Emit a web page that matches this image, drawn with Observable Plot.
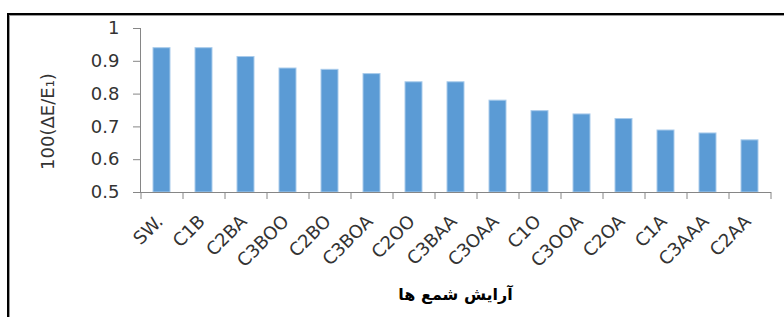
<!DOCTYPE html>
<html>
<head>
<meta charset="utf-8">
<script src="https://cdn.jsdelivr.net/npm/d3@7"></script>
<script src="https://cdn.jsdelivr.net/npm/@observablehq/plot@0.6"></script>
<style>
  html, body { margin: 0; padding: 0; background: #fff; }
  #wrap { position: relative; width: 784px; height: 317px; overflow: hidden; }
  #wrap svg { position: absolute; left: 0; top: 0; }
  #border { position: absolute; left: 7px; top: 13px; width: 900px; height: 400px;
            border-top: 2px solid #000; border-left: 2px solid #000; box-sizing: border-box; }
  #border2 { position: absolute; left: 0; top: 0; width: 100%; height: 100%;
             border-top: 1px solid #9a9a9a; border-left: 1px solid #9a9a9a; box-sizing: border-box; }
</style>
</head>
<body>
<div id="wrap"></div>
<script>
const categories = ["SW.", "C1B", "C2BA", "C3BOO", "C2BO", "C3BOA", "C2OO", "C3BAA", "C3OAA", "C1O", "C3OOA", "C2OA", "C1A", "C3AAA", "C2AA"];
const values = [0.940, 0.940, 0.913, 0.878, 0.874, 0.861, 0.836, 0.836, 0.780, 0.748, 0.738, 0.724, 0.689, 0.680, 0.659];
const yTicks = [0.5, 0.6, 0.7, 0.8, 0.9, 1];
const yLabel = "100(ΔE/E\u2081)";
const xLabel = "آرایش شمع ها";

const data = categories.map((c, i) => ({cat: c, value: values[i]}));

const chart = Plot.plot({
  width: 784,
  height: 317,
  marginLeft: 140,
  marginRight: 14,
  marginTop: 28,
  marginBottom: 125,
  x: {domain: categories, paddingInner: 0.6, paddingOuter: 0.3},
  y: {domain: [0.5, 1]},
  style: {fontFamily: "DejaVu Sans", background: "white"},
  marks: [
    Plot.barY(data, {x: "cat", y1: 0.5, y2: "value", fill: "#5B9BD5", stroke: "#A9CBEB", strokeWidth: 1}),
    Plot.frame({anchor: "left", stroke: "#868686"}),
    Plot.frame({anchor: "bottom", stroke: "#868686"}),
    Plot.axisY({ticks: yTicks, tickFormat: d => d === 1 ? "1" : d.toFixed(1), tickSize: 7, tickPadding: 14,
                fontSize: 18, stroke: "#868686", fill: "#333", label: null}),
    Plot.axisX({tickSize: 7, text: null, dx: -21, stroke: "#868686", label: null}),
    Plot.axisX({ticks: [categories[categories.length - 1]], tickSize: 7, text: null, dx: 21, stroke: "#868686", label: null}),
    Plot.axisX({tickSize: 0, tickRotate: -45, tickPadding: 14, dx: -2, dy: 12, fontSize: 18, fill: "#333", label: null}),
    Plot.text([yLabel], {frameAnchor: "left", textAnchor: "middle", rotate: -90, dx: -92, dy: 11, fontSize: 18, fill: "#333"}),
    Plot.text([xLabel], {frameAnchor: "bottom", dy: 107, fontSize: 16, fontWeight: "bold", fill: "#000"})
  ]
});

const wrap = document.getElementById("wrap");
wrap.appendChild(chart);
const b = document.createElement("div");
b.id = "border";
const b2 = document.createElement("div");
b2.id = "border2";
b.appendChild(b2);
wrap.appendChild(b);
</script>
</body>
</html>
